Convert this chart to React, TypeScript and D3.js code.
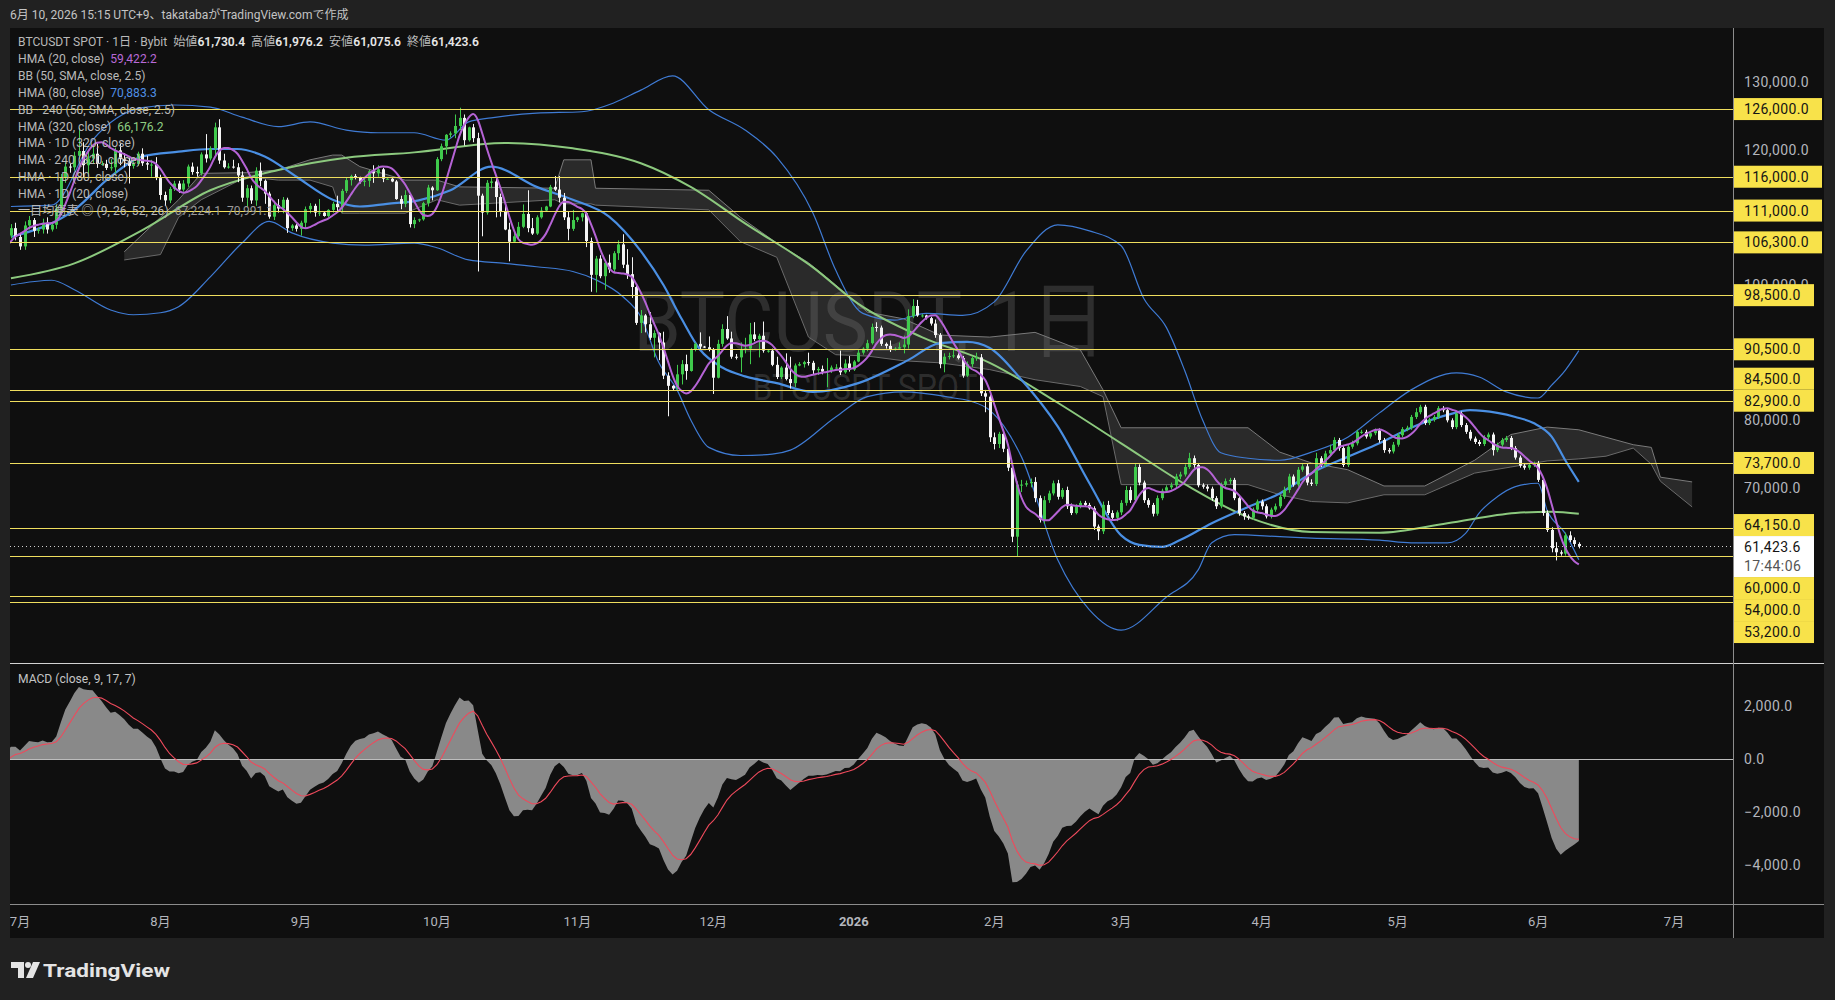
import React from 'react';
import * as d3 from 'd3';

// prices in thousands USDT
// warm-up closes before the visible window (2025-05-10 .. 2025-06-28), only used to seed HMA / MACD
const warmupCloses = [
  104.6, 104.1, 102.8, 104.2, 103.5, 103.8, 103.5, 103.1, 106.5, 105.6, 106.8, 109.7, 111.7, 107.3, 107.8, 109.0, 109.4, 108.9, 107.8, 105.6, 103.9, 104.6,
  105.7, 105.9, 105.4, 104.7, 101.6, 104.4, 105.6, 105.8, 110.3, 110.3, 108.7, 105.9, 106.1, 105.5, 105.6, 107.0, 104.6, 104.9, 104.7, 103.3, 102.1, 100.9, 105.6, 106.0, 107.3, 106.9, 107.1, 107.3,
];

// daily closes from 2025-06-29 to 2026-06-10
const closes = [
  108.4, 107.1,
  // Jul
  105.7, 108.8, 109.6, 108.0, 108.2, 109.2, 108.2, 108.9, 111.3, 115.9, 117.5, 117.4, 119.1, 119.8, 117.7, 118.7, 119.4, 117.9, 117.9, 117.3, 117.4, 119.9, 118.6, 118.3, 117.6, 117.9, 119.4, 118.0, 117.8, 117.8, 115.8,
  // Aug
  113.3, 112.5, 114.2, 115.0, 114.1, 115.0, 117.5, 116.7, 116.5, 119.3, 118.7, 120.2, 123.3, 118.4, 117.4, 117.5, 117.4, 116.2, 112.9, 114.3, 112.5, 116.9, 115.4, 113.5, 110.1, 111.8, 111.3, 112.6, 108.4, 108.8, 108.3,
  // Sep
  109.2, 111.2, 111.7, 110.7, 110.7, 110.2, 111.1, 112.0, 111.5, 113.9, 115.5, 116.1, 115.9, 115.3, 115.4, 116.8, 116.5, 117.1, 115.7, 115.7, 115.3, 112.7, 112.0, 113.3, 109.0, 109.6, 109.7, 112.1, 114.4, 114.0,
  // Oct
  118.6, 120.5, 122.2, 122.4, 123.5, 124.7, 121.4, 123.3, 121.7, 113.2, 110.7, 115.1, 115.3, 113.0, 110.8, 108.2, 106.4, 107.2, 108.6, 110.5, 108.4, 107.6, 110.0, 111.0, 111.6, 114.5, 114.1, 112.9, 110.0, 108.3, 109.6,
  // Nov
  110.0, 110.6, 106.5, 101.5, 103.9, 101.3, 103.3, 102.3, 104.7, 106.0, 103.0, 101.6, 99.7, 94.4, 95.5, 94.2, 92.2, 92.9, 91.5, 86.6, 85.1, 84.7, 86.8, 88.3, 87.3, 90.5, 91.3, 90.9, 90.8, 90.4,
  // Dec
  86.3, 91.3, 93.5, 92.1, 89.4, 89.3, 90.4, 90.6, 92.7, 92.0, 92.5, 90.3, 90.3, 88.2, 86.4, 87.8, 86.1, 85.5, 88.1, 88.3, 88.6, 88.5, 87.4, 87.6, 87.2, 87.3, 87.8, 87.8, 87.1, 88.4, 87.5,
  // Jan
  88.7, 90.0, 90.6, 91.4, 93.8, 93.7, 91.3, 91.0, 90.5, 90.6, 90.8, 91.2, 95.4, 96.9, 95.5, 95.5, 95.1, 94.3, 92.6, 88.3, 89.4, 89.5, 89.6, 89.2, 86.6, 88.3, 89.2, 89.3, 84.0, 83.5, 77.5,
  // Feb
  76.5, 78.0, 75.8, 73.0, 62.8, 70.5, 70.5, 70.7, 70.9, 68.5, 65.3, 68.2, 69.2, 70.7, 68.7, 69.7, 67.3, 66.3, 67.3, 67.8, 67.5, 67.0, 64.3, 63.6, 67.5, 66.3, 65.6, 66.4,
  // Mar
  67.8, 69.7, 68.2, 73.1, 70.8, 68.2, 67.5, 66.2, 68.5, 69.6, 70.1, 70.4, 71.7, 72.0, 73.1, 74.4, 73.4, 70.4, 70.2, 69.9, 68.5, 67.3, 70.5, 71.0, 71.2, 68.5, 66.3, 65.8, 65.6, 66.8, 68.0,
  // Apr
  67.3, 65.8, 66.8, 67.3, 68.7, 69.7, 71.7, 70.5, 72.7, 73.2, 70.8, 70.6, 74.4, 73.4, 75.1, 75.6, 77.1, 75.9, 73.4, 76.1, 76.6, 78.3, 78.3, 77.6, 78.1, 78.5, 77.1, 75.6, 75.4, 76.4,
  // May
  77.8, 78.7, 78.9, 80.5, 81.2, 82.0, 79.6, 80.1, 80.5, 81.8, 81.5, 80.0, 79.0, 81.0, 79.3, 78.3, 77.3, 76.8, 76.5, 77.5, 77.9, 75.6, 76.4, 77.1, 77.4, 75.9, 74.5, 73.3, 73.0, 73.4, 73.6,
  // Jun
  71.2, 66.3, 63.8, 61.1, 60.5, 60.3, 63.0, 62.3, 61.7304, 61.4236,
];

// upper / lower wick length of each candle (same days as closes)
const wickUp = [
  0.6, 0.8,
  0.6, 0.6, 0.6, 0.3, 0.3, 0.6, 0.8, 0.4, 0.6, 0.5, 0.6, 0.4, 0.6, 3.4, 1.3, 1.3, 1.2, 1.5, 0.4, 0.6, 1.2, 0.4, 1.0, 0.9, 0.5, 0.4, 0.3, 0.8, 1.1, 0.7, 1.1,
  0.5, 0.5, 0.3, 0.4, 0.4, 0.5, 0.3, 0.6, 0.8, 0.3, 3.0, 0.3, 0.7, 1.2, 1.0, 0.5, 1.0, 0.6, 0.6, 0.5, 0.4, 0.5, 1.2, 0.2, 0.3, 0.4, 0.9, 0.4, 0.3, 0.2, 0.2,
  0.3, 0.4, 0.4, 0.3, 2.0, 0.1, 0.1, 0.3, 1.2, 0.3, 0.4, 0.2, 0.3, 0.1, 0.3, 0.2, 0.9, 0.6, 0.2, 0.1, 0.1, 0.2, 0.5, 0.7, 0.3, 0.4, 0.1, 0.2, 0.4, 0.2,
  0.3, 0.4, 0.1, 0.3, 1.7, 1.5, 0.5, 0.1, 0.5, 0.8, 0.3, 0.4, 0.6, 0.6, 0.5, 1.0, 1.0, 0.5, 0.7, 1.4, 3.5, 1.5, 0.3, 0.5, 0.1, 0.3, 1.6, 2.0, 0.7, 0.8, 1.5,
  0.1, 0.1, 0.2, 0.5, 0.4, 0.5, 0.1, 1.2, 0.3, 0.6, 1.5, 2.3, 2.5, 0.2, 0.8, 0.2, 1.8, 0.4, 0.1, 1.6, 0.5, 0.1, 1.4, 0.6, 1.4, 0.2, 0.2, 1.7, 0.1, 1.6,
  0.3, 0.6, 0.7, 1.9, 1.0, 0.4, 1.1, 1.6, 1.7, 1.8, 0.3, 2.1, 0.1, 0.3, 1.2, 0.2, 2.1, 3.3, 0.3, 0.3, 0.2, 1.4, 0.3, 0.3, 0.5, 1.9, 0.3, 0.5, 2.5, 0.6, 1.1,
  0.2, 0.5, 0.2, 0.5, 0.5, 0.7, 0.3, 0.2, 0.8, 0.2, 0.7, 1.3, 1.0, 1.0, 0.9, 0.2, 0.1, 0.2, 0.6, 0.3, 0.5, 0.5, 1.0, 0.3, 0.3, 0.4, 0.3, 0.7, 0.5, 0.5, 0.3,
  0.7, 0.3, 0.5, 0.6, 0.4, 0.5, 0.7, 0.4, 0.5, 0.7, 0.4, 0.6, 0.4, 0.4, 0.5, 0.3, 0.5, 0.4, 0.3, 0.3, 0.3, 0.3, 0.3, 0.3, 0.5, 0.6, 0.4, 0.3,
  0.4, 0.6, 0.5, 0.6, 0.4, 0.3, 0.3, 0.3, 0.4, 0.3, 0.3, 0.4, 0.4, 0.4, 0.4, 0.8, 0.4, 0.3, 0.3, 0.3, 0.3, 0.3, 0.3, 0.4, 0.3, 0.3, 0.3, 0.3, 0.3, 0.3, 0.3,
  0.3, 0.3, 0.3, 0.4, 0.3, 0.5, 0.4, 0.3, 0.4, 0.4, 0.4, 0.5, 0.8, 0.3, 0.4, 0.8, 0.4, 0.3, 0.3, 0.3, 0.4, 0.3, 0.3, 0.3, 0.3, 0.3, 0.3, 0.3, 0.3, 0.4,
  0.3, 0.3, 0.3, 0.3, 0.6, 0.3, 0.3, 0.3, 0.3, 0.3, 0.3, 0.3, 0.3, 0.3, 0.3, 0.3, 0.3, 0.3, 0.3, 0.3, 0.3, 0.3, 0.3, 0.3, 0.3, 0.3, 0.3, 0.3, 0.4, 0.3, 0.3,
  0.4, 0.3, 0.4, 0.4, 0.9, 0.3, 0.4, 0.6, 0.4, 0.2458,
];
const wickDn = [
  0.4, 0.5,
  0.5, 0.5, 0.6, 0.9, 0.4, 0.6, 0.6, 0.3, 0.6, 0.8, 0.8, 0.8, 0.5, 0.5, 1.8, 1.6, 0.8, 0.6, 0.2, 0.3, 0.4, 0.9, 0.9, 0.9, 2.6, 0.4, 0.3, 0.4, 0.8, 1.8, 0.3,
  0.7, 0.8, 0.4, 0.3, 0.5, 0.3, 0.5, 0.4, 0.5, 0.3, 0.6, 0.3, 1.3, 0.5, 0.2, 0.2, 0.2, 1.0, 0.6, 1.3, 0.5, 0.8, 0.8, 1.5, 0.3, 0.5, 0.6, 0.7, 0.7, 0.4, 0.4,
  1.0, 0.8, 0.6, 0.6, 0.5, 0.1, 0.2, 0.4, 0.7, 0.8, 0.3, 0.8, 0.3, 0.3, 0.7, 0.9, 1.4, 0.5, 0.5, 0.1, 0.1, 0.1, 0.8, 0.5, 0.5, 0.6, 0.3, 0.2, 0.5, 1.5,
  0.1, 0.3, 1.2, 0.4, 0.7, 0.6, 0.8, 0.2, 0.6, 11.2, 3.5, 0.3, 0.8, 3.0, 0.7, 0.1, 2.9, 0.1, 0.5, 0.2, 0.6, 0.2, 0.2, 0.2, 0.1, 0.1, 0.2, 0.7, 0.4, 1.7, 0.3,
  0.3, 0.6, 0.9, 2.5, 2.6, 0.3, 2.0, 0.5, 0.5, 1.0, 0.5, 0.7, 1.6, 0.3, 1.5, 1.2, 0.3, 2.9, 2.6, 0.5, 4.5, 0.3, 0.2, 1.5, 1.3, 0.1, 0.3, 0.5, 0.1, 0.2,
  2.4, 0.1, 0.4, 0.2, 0.3, 0.3, 2.2, 0.5, 2.3, 0.3, 2.7, 0.3, 0.3, 0.2, 0.3, 0.3, 0.2, 0.8, 0.6, 0.1, 0.5, 0.4, 0.6, 0.7, 0.4, 2.3, 0.3, 0.2, 0.4, 0.2, 0.3,
  0.2, 0.1, 0.3, 0.4, 0.2, 0.6, 0.3, 0.4, 0.4, 0.2, 0.2, 0.9, 0.6, 0.3, 0.2, 0.3, 0.2, 0.3, 0.4, 0.6, 1.2, 0.4, 0.3, 0.2, 0.3, 0.2, 0.4, 0.4, 0.4, 2.3, 0.7,
  0.8, 0.6, 0.5, 0.5, 0.8, 2.9, 1.1, 0.3, 0.6, 0.6, 0.4, 0.6, 0.4, 0.3, 0.4, 0.3, 0.4, 0.3, 0.2, 0.3, 0.2, 0.2, 0.5, 1.3, 0.4, 0.3, 0.3, 0.5,
  0.4, 0.4, 0.4, 0.4, 0.4, 0.4, 0.4, 0.4, 0.3, 0.3, 0.3, 0.3, 0.4, 0.4, 0.3, 0.3, 0.4, 0.3, 0.3, 0.4, 0.4, 0.4, 0.3, 0.3, 0.4, 0.3, 0.4, 0.5, 0.3, 0.3, 0.4,
  0.5, 0.3, 0.3, 0.3, 0.3, 0.3, 0.4, 0.3, 0.3, 0.3, 0.4, 0.3, 0.3, 0.3, 0.3, 0.3, 0.3, 0.4, 0.3, 0.3, 0.3, 0.3, 0.3, 0.3, 0.3, 0.3, 0.4, 0.4, 0.3, 0.3,
  0.3, 0.3, 0.3, 0.3, 0.3, 0.3, 0.3, 0.3, 0.3, 0.3, 0.3, 0.3, 0.3, 0.3, 0.3, 0.3, 0.3, 0.3, 0.3, 0.3, 0.3, 0.8, 0.3, 0.3, 0.3, 0.3, 0.3, 0.3, 0.3, 0.3, 0.3,
  0.3, 0.4, 0.3, 0.6, 1.2, 0.3, 0.3, 0.3, 0.4, 0.348,
];

// indicator lines [date, value]
const hma80: [string, number][] = [
  ['2025-06-29', 107.1], ['2025-07-13', 111.1], ['2025-07-21', 116.0], ['2025-07-28', 119.0], ['2025-08-05', 119.7], ['2025-08-12', 120.1],
  ['2025-08-18', 120.1], ['2025-08-24', 119.0], ['2025-08-31', 116.0], ['2025-09-08', 112.6], ['2025-09-14', 111.6], ['2025-09-20', 112.0],
  ['2025-09-27', 112.5], ['2025-10-04', 114.0], ['2025-10-13', 117.5], ['2025-10-23', 114.5], ['2025-10-31', 112.6], ['2025-11-08', 110.1],
  ['2025-11-15', 105.0], ['2025-11-20', 100.0], ['2025-11-24', 95.0], ['2025-11-28', 90.5], ['2025-12-03', 87.8], ['2025-12-08', 86.5],
  ['2025-12-15', 85.5], ['2025-12-23', 84.2], ['2026-01-02', 85.5], ['2026-01-13', 88.9], ['2026-01-20', 91.4], ['2026-01-26', 91.6],
  ['2026-01-31', 90.7], ['2026-02-07', 86.0], ['2026-02-15', 79.1], ['2026-02-22', 70.7], ['2026-03-01', 63.0], ['2026-03-05', 61.6],
  ['2026-03-10', 61.3], ['2026-03-14', 62.3], ['2026-03-21', 64.8], ['2026-03-29', 67.2], ['2026-04-05', 69.2], ['2026-04-12', 72.2],
  ['2026-04-20', 74.6], ['2026-04-27', 76.6], ['2026-05-04', 78.9], ['2026-05-12', 80.8], ['2026-05-17', 81.5], ['2026-05-23', 81.1],
  ['2026-05-27', 80.5], ['2026-05-31', 79.6], ['2026-06-04', 77.6], ['2026-06-07', 74.1], ['2026-06-10', 70.9],
];
const hma320: [string, number][] = [
  ['2025-06-29', 101.0], ['2025-07-13', 103.2], ['2025-07-28', 108.1], ['2025-08-12', 114.0], ['2025-08-27', 117.0], ['2025-09-11', 118.8],
  ['2025-09-26', 119.6], ['2025-10-16', 121.0], ['2025-10-31', 120.2], ['2025-11-15', 118.0], ['2025-11-26', 114.5], ['2025-12-08', 109.1],
  ['2025-12-23', 102.6], ['2026-01-02', 97.2], ['2026-01-16', 92.3], ['2026-01-31', 88.5], ['2026-02-15', 82.6], ['2026-03-01', 76.6],
  ['2026-03-16', 70.2], ['2026-03-29', 65.7], ['2026-04-12', 63.5], ['2026-04-27', 63.4], ['2026-05-12', 64.8], ['2026-05-27', 66.3],
  ['2026-06-04', 66.5], ['2026-06-10', 66.2],
];
const bbUpper: [string, number][] = [
  ['2025-06-29', 111.6], ['2025-07-08', 111.8], ['2025-07-17', 121.4], ['2025-07-28', 126.2], ['2025-08-04', 126.6], ['2025-08-12', 126.3],
  ['2025-08-19', 124.8], ['2025-08-27', 123.4], ['2025-09-03', 124.1], ['2025-09-11', 122.9], ['2025-09-18', 122.5], ['2025-09-26', 122.5],
  ['2025-10-03', 121.4], ['2025-10-08', 124.1], ['2025-10-13', 124.7], ['2025-10-23', 125.4], ['2025-11-02', 125.6], ['2025-11-09', 126.9],
  ['2025-11-15', 128.8], ['2025-11-22', 130.9], ['2025-11-30', 125.9], ['2025-12-08', 122.9], ['2025-12-15', 118.9], ['2025-12-23', 110.6],
  ['2025-12-28', 102.2], ['2026-01-03', 95.8], ['2026-01-10', 94.8], ['2026-01-17', 95.8], ['2026-01-25', 95.5], ['2026-02-01', 97.5],
  ['2026-02-08', 105.0], ['2026-02-15', 108.9], ['2026-02-22', 108.0], ['2026-03-01', 105.8], ['2026-03-06', 98.0], ['2026-03-11', 93.7],
  ['2026-03-15', 87.4], ['2026-03-19', 80.0], ['2026-03-23', 75.2], ['2026-03-29', 74.4], ['2026-04-05', 74.1], ['2026-04-12', 75.3],
  ['2026-04-20', 77.5], ['2026-04-27', 81.1], ['2026-05-04', 84.5], ['2026-05-14', 87.0], ['2026-05-19', 86.4], ['2026-05-25', 84.2],
  ['2026-06-01', 83.3], ['2026-06-04', 85.2], ['2026-06-07', 87.4], ['2026-06-10', 90.3],
];
const bbLower: [string, number][] = [
  ['2025-06-29', 100.0], ['2025-07-08', 100.7], ['2025-07-13', 99.3], ['2025-07-21', 96.3], ['2025-07-26', 95.6], ['2025-08-01', 95.9],
  ['2025-08-05', 96.8], ['2025-08-12', 101.2], ['2025-08-19', 106.2], ['2025-08-25', 109.4], ['2025-08-30', 107.7], ['2025-09-08', 106.2],
  ['2025-09-15', 105.9], ['2025-09-26', 106.2], ['2025-10-01', 105.5], ['2025-10-08', 103.7], ['2025-10-16', 103.2], ['2025-10-23', 102.7],
  ['2025-10-31', 102.0], ['2025-11-05', 100.8], ['2025-11-11', 98.3], ['2025-11-15', 95.3], ['2025-11-19', 88.5], ['2025-11-23', 84.5],
  ['2025-11-26', 80.1], ['2025-11-30', 76.0], ['2025-12-07', 74.8], ['2025-12-14', 75.0], ['2025-12-18', 75.6], ['2025-12-28', 80.5],
  ['2026-01-04', 83.5], ['2026-01-12', 84.2], ['2026-01-23', 83.3], ['2026-01-27', 82.8], ['2026-01-31', 81.5], ['2026-02-07', 74.6],
  ['2026-02-15', 59.4], ['2026-02-22', 52.0], ['2026-03-01', 49.0], ['2026-03-11', 53.9], ['2026-03-18', 57.9], ['2026-03-21', 61.9],
  ['2026-03-26', 63.1], ['2026-04-05', 62.8], ['2026-04-12', 62.6], ['2026-04-27', 62.3], ['2026-05-04', 61.9], ['2026-05-12', 61.9],
  ['2026-05-16', 63.3], ['2026-05-19', 66.3], ['2026-05-23', 68.7], ['2026-05-27', 70.2], ['2026-06-01', 70.7], ['2026-06-03', 66.7],
  ['2026-06-07', 63.3], ['2026-06-10', 59.4],
];
// ichimoku cloud [date, span A, span B]
const cloud: [string, number, number][] = [
  ['2025-07-24', 104.9, 103.7], ['2025-08-01', 110.0, 104.5], ['2025-08-05', 112.6, 110.0], ['2025-08-10', 116.5, 112.6], ['2025-08-20', 116.6, 116.0],
  ['2025-08-27', 117.0, 115.5], ['2025-09-03', 118.5, 115.5], ['2025-09-08', 119.2, 114.5], ['2025-09-10', 119.2, 110.6], ['2025-09-14', 117.5, 110.6],
  ['2025-09-24', 115.5, 110.6], ['2025-10-01', 115.5, 112.6], ['2025-10-06', 114.5, 111.8], ['2025-10-27', 114.3, 112.6], ['2025-10-29', 118.5, 112.0],
  ['2025-11-04', 118.5, 112.0], ['2025-11-05', 114.3, 111.8], ['2025-11-30', 114.0, 111.1], ['2025-12-07', 110.0, 106.4], ['2025-12-15', 106.2, 104.1],
  ['2025-12-22', 103.3, 92.3], ['2025-12-28', 100.0, 89.7], ['2026-01-04', 96.0, 89.5], ['2026-01-12', 95.0, 88.8], ['2026-01-20', 92.6, 88.5],
  ['2026-01-31', 92.3, 87.5], ['2026-02-10', 93.0, 86.0], ['2026-02-20', 90.4, 85.0], ['2026-02-25', 84.5, 83.5], ['2026-03-01', 78.9, 70.5],
  ['2026-03-29', 78.9, 70.5], ['2026-04-05', 75.3, 69.0], ['2026-04-12', 73.7, 68.0], ['2026-04-20', 72.7, 67.8], ['2026-04-28', 70.3, 69.0],
  ['2026-05-07', 70.3, 69.0], ['2026-05-18', 74.1, 72.2], ['2026-05-26', 77.9, 73.1], ['2026-06-03', 79.0, 74.0], ['2026-06-10', 78.6, 74.3],
  ['2026-06-16', 77.5, 74.7], ['2026-06-22', 76.4, 75.9], ['2026-06-26', 76.0, 73.5], ['2026-06-28', 71.6, 71.0], ['2026-07-05', 70.9, 67.2],
];

// horizontal levels drawn by the author
const levels = [126000, 116000, 111000, 106300, 98500, 90500, 84500, 82900, 73700, 64150, 60000, 54000, 53200];
const priceTicks = [130000, 120000, 100000, 80000, 70000];
const macdTicks = [2000, 0, -2000, -4000];
const countdown = '17:44:06';

const legendRows: { t: string; c?: string; b?: boolean }[][] = [
  [{ t: 'BTCUSDT SPOT · 1日 · Bybit  始値' }, { t: '61,730.4', c: '#e6e6e6', b: true }, { t: '  高値' }, { t: '61,976.2', c: '#e6e6e6', b: true },
   { t: '  安値' }, { t: '61,075.6', c: '#e6e6e6', b: true }, { t: '  終値' }, { t: '61,423.6', c: '#e6e6e6', b: true }],
  [{ t: 'HMA (20, close)  ' }, { t: '59,422.2', c: '#b96ad8' }],
  [{ t: 'BB (50, SMA, close, 2.5)' }],
  [{ t: 'HMA (80, close)  ' }, { t: '70,883.3', c: '#4f8fe6' }],
  [{ t: 'BB · 240 (50, SMA, close, 2.5)' }],
  [{ t: 'HMA (320, close)  ' }, { t: '66,176.2', c: '#8fcf83' }],
  [{ t: 'HMA · 1D (320, close)' }],
  [{ t: 'HMA · 240 (320, close)' }],
  [{ t: 'HMA · 1D (80, close)' }],
  [{ t: 'HMA · 1D (20, close)' }],
  [{ t: '一目均衡表 ◎ (9, 26, 52, 26)  ' }, { t: '67,224.1  70,991.1', c: '#9a9a9a' }],
];

const FONT = "Roboto, 'Noto Sans CJK JP', 'Noto Sans', sans-serif";
const day = d3.utcParse('%Y-%m-%d');

function wma(src: (number | null)[], n: number): (number | null)[] {
  return src.map((_, t) => {
    if (t < n - 1) return null;
    let s = 0, w = 0;
    for (let i = 0; i < n; i++) {
      const v = src[t - i];
      if (v == null) return null;
      s += (n - i) * v;
      w += n - i;
    }
    return s / w;
  });
}
function hma(src: number[], n: number) {
  const half = wma(src, Math.floor(n / 2));
  const full = wma(src, n);
  const diff = src.map((_, t) => (half[t] == null || full[t] == null ? null : 2 * (half[t] as number) - (full[t] as number)));
  return wma(diff, Math.floor(Math.sqrt(n)));
}
function ema(src: number[], n: number) {
  const a = 2 / (n + 1);
  const out: number[] = [];
  src.forEach((v, i) => out.push(i === 0 ? v : a * v + (1 - a) * out[i - 1]));
  return out;
}

export default function App() {
  const W = 1835, H = 1000;
  const L = 10, R = 1733, T = 28, MB = 663, PB = 904, AB = 938, AR = 1824;
  const BG = '#212121', PANEL = '#0f0f0f', AXIS_TXT = '#b4b6bd', LEG = '#b9b9b9';

  const x = d3.scaleUtc().domain([day('2025-07-01')!, day('2026-07-01')!]).range([20, 1674]);
  const y = d3.scaleLinear().domain([70000, 130000]).range([488, 82]);
  const ym = d3.scaleLinear().domain([-4000, 2000]).range([865, 706]);

  const all = [...warmupCloses, ...closes].map((v) => v * 1000);
  const nWarm = warmupCloses.length;
  const start = day('2025-05-10')!;
  const dates = all.map((_, i) => d3.utcDay.offset(start, i));

  const candles = closes.map((_, j) => {
    const i = nWarm + j;
    const o = all[i - 1], c = all[i];
    return {
      date: dates[i], o, c,
      h: Math.max(o, c) + (wickUp[j] ?? 0.3) * 1000,
      l: Math.min(o, c) - (wickDn[j] ?? 0.3) * 1000,
    };
  });

  const h20 = hma(all, 20);
  const h20pts = dates.map((d, i) => ({ d, v: h20[i] })).filter((p, i) => i >= nWarm - 2 && p.v != null) as { d: Date; v: number }[];

  const fast = ema(all, 9), slow = ema(all, 17);
  const macd = all.map((_, i) => fast[i] - slow[i]);
  const sig = ema(macd, 7);
  const macdPts = dates.map((d, i) => ({ d, m: macd[i], s: sig[i] })).filter((_, i) => i >= nWarm - 1);

  const toPts = (arr: [string, number][]) => arr.map(([d, v]) => ({ d: day(d)!, v: v * 1000 }));
  const line = d3.line<{ d: Date; v: number }>().x((p) => x(p.d)).y((p) => y(p.v)).curve(d3.curveMonotoneX);

  const cloudPts = cloud.map(([d, a, b]) => ({ d: day(d)!, a: a * 1000, b: b * 1000 }));
  const cloudArea = d3.area<{ d: Date; a: number; b: number }>().x((p) => x(p.d)).y0((p) => y(p.a)).y1((p) => y(p.b));
  const spanA = d3.line<{ d: Date; a: number; b: number }>().x((p) => x(p.d)).y((p) => y(p.a));
  const spanB = d3.line<{ d: Date; a: number; b: number }>().x((p) => x(p.d)).y((p) => y(p.b));

  const macdArea = d3.area<{ d: Date; m: number; s: number }>().x((p) => x(p.d)).y0(ym(0)).y1((p) => ym(p.m));
  const sigLine = d3.line<{ d: Date; m: number; s: number }>().x((p) => x(p.d)).y((p) => ym(p.s));

  // price axis labels with TradingView-like collision handling
  const fmt = d3.format(',.1f');
  const last = all[all.length - 1];
  const py = y(last);
  const boxTop = py - 10, boxBot = py + 31;
  const lab = levels.map((v) => ({ v, y: y(v), ly: y(v) }));
  const above = lab.filter((d) => d.y <= py).sort((a, b) => b.y - a.y);
  let lim = boxTop;
  above.forEach((d) => { d.ly = Math.min(d.y, lim - 11); lim = d.ly - 11; });
  const below = lab.filter((d) => d.y > py).sort((a, b) => a.y - b.y);
  lim = boxBot;
  below.forEach((d) => { d.ly = Math.max(d.y, lim + 11); lim = d.ly + 11; });

  const months = d3.utcMonth.range(day('2025-07-01')!, day('2026-07-02')!);

  const minus = (s: string) => s.replace('-', '−');

  return (
    <svg width={W} height={H} style={{ position: 'absolute', left: 0, top: 0, display: 'block', background: BG }} fontFamily={FONT}>
      <defs>
        <clipPath id="mainClip"><rect x={L} y={T} width={R - L} height={MB - T} /></clipPath>
        <clipPath id="macdClip"><rect x={L} y={MB + 1} width={R - L} height={PB - MB - 1} /></clipPath>
        <clipPath id="axisClip"><rect x={L} y={PB} width={R - L} height={AB - PB} /></clipPath>
      </defs>
      <rect x={0} y={0} width={W} height={H} fill={BG} />
      <text x={10} y={19} fontSize={12} fill="#c4c4c4">6月 10, 2026 15:15 UTC+9、takatabaがTradingView.comで作成</text>
      <rect x={L} y={T} width={AR - L} height={AB - T} fill={PANEL} />

      {/* watermark */}
      <g fill="rgba(255,255,255,0.13)" textAnchor="middle">
        <text x={870} y={351} fontSize={84} textLength={473} lengthAdjust="spacingAndGlyphs">BTCUSDT, 1日</text>
        <text x={865} y={400} fontSize={36} textLength={225} lengthAdjust="spacingAndGlyphs">BTCUSDT SPOT</text>
      </g>

      <g clipPath="url(#mainClip)">
        {/* ichimoku cloud */}
        <path d={cloudArea(cloudPts) ?? ''} fill="rgba(150,150,150,0.2)" />
        <path d={spanA(cloudPts) ?? ''} fill="none" stroke="#7a7a7a" strokeWidth={1} />
        <path d={spanB(cloudPts) ?? ''} fill="none" stroke="#6a6a6a" strokeWidth={1} />
        {/* bollinger bands */}
        <path d={line(toPts(bbUpper)) ?? ''} fill="none" stroke="#3f7bd4" strokeWidth={1.2} />
        <path d={line(toPts(bbLower)) ?? ''} fill="none" stroke="#3f7bd4" strokeWidth={1.2} />
        {/* HMA 320 / 80 */}
        <path d={line(toPts(hma320)) ?? ''} fill="none" stroke="#8cc97e" strokeWidth={2} />
        <path d={line(toPts(hma80)) ?? ''} fill="none" stroke="#4a8fe3" strokeWidth={2.2} />
        {/* candles */}
        {candles.map((k, i) => {
          const cx = Math.round(x(k.date));
          const col = k.c >= k.o ? '#3fca4c' : '#f4f4f4';
          const top = y(Math.max(k.o, k.c)), bot = y(Math.min(k.o, k.c));
          return (
            <g key={i} fill={col}>
              <rect x={cx} y={y(k.h)} width={1} height={Math.max(1, y(k.l) - y(k.h))} />
              <rect x={cx - 1} y={top} width={3} height={Math.max(1, bot - top)} />
            </g>
          );
        })}
        {/* HMA 20 */}
        <path d={line(h20pts) ?? ''} fill="none" stroke="#b563d5" strokeWidth={2} />
        {/* levels */}
        {levels.map((v) => (
          <line key={v} x1={L} x2={R} y1={Math.round(y(v)) + 0.5} y2={Math.round(y(v)) + 0.5} stroke="#efde5e" strokeWidth={1} />
        ))}
        <line x1={L} x2={R} y1={Math.round(py) + 0.5} y2={Math.round(py) + 0.5} stroke="#cfcfcf" strokeWidth={1} strokeDasharray="1 3" />
      </g>

      {/* legend */}
      {legendRows.map((row, r) => (
        <text key={r} x={18} y={46 + r * 16.9} fontSize={12.1} fill={LEG} style={{ whiteSpace: 'pre' }}>
          {row.map((s, k) => (
            <tspan key={k} fill={s.c ?? LEG} fontWeight={s.b ? 600 : 400}>{s.t}</tspan>
          ))}
        </text>
      ))}

      {/* MACD pane */}
      <g clipPath="url(#macdClip)">
        <path d={macdArea(macdPts) ?? ''} fill="#898989" />
        <line x1={L} x2={R} y1={Math.round(ym(0)) + 0.5} y2={Math.round(ym(0)) + 0.5} stroke="#bdbdbd" strokeWidth={1} />
        <path d={sigLine(macdPts) ?? ''} fill="none" stroke="#ee4a5c" strokeWidth={1.1} />
      </g>
      <text x={18} y={683} fontSize={12.1} fill="#c4c4c4">MACD (close, 9, 17, 7)</text>

      {/* pane separators */}
      <line x1={L} x2={AR} y1={MB + 0.5} y2={MB + 0.5} stroke="#d2d2d2" strokeWidth={1} />
      <line x1={L} x2={AR} y1={PB + 0.5} y2={PB + 0.5} stroke="#8c8c8c" strokeWidth={1} />
      <line x1={R + 0.5} x2={R + 0.5} y1={T} y2={AB} stroke="#8c8c8c" strokeWidth={1} />

      {/* time axis */}
      <g clipPath="url(#axisClip)">
        {months.map((m) => {
          const jan = m.getUTCMonth() === 0;
          return (
            <text key={m.toISOString()} x={x(m)} y={926} fontSize={13} fill={AXIS_TXT} textAnchor="middle" fontWeight={jan ? 700 : 400}>
              {jan ? String(m.getUTCFullYear()) : `${m.getUTCMonth() + 1}月`}
            </text>
          );
        })}
      </g>

      {/* price axis */}
      <g fontSize={14} letterSpacing={0.4}>
        {priceTicks.map((v) => (
          <text key={v} x={1744} y={y(v) + 5} fill={AXIS_TXT}>{fmt(v)}</text>
        ))}
        {lab.map((d) => {
          const t = fmt(d.v);
          return (
            <g key={d.v}>
              <rect x={R + 1} y={d.ly - 11} width={t.length * 8 + 16} height={22} fill="#f8e24a" />
              <text x={1744} y={d.ly + 5} fill="#141414">{t}</text>
            </g>
          );
        })}
        <rect x={R + 1} y={boxTop} width={80} height={41} fill="#ffffff" />
        <text x={1744} y={py + 6} fill="#141414">{fmt(last)}</text>
        <text x={1744} y={py + 25} fill="#555555">{countdown}</text>
        {macdTicks.map((v) => (
          <text key={v} x={1744} y={ym(v) + 5} fill={AXIS_TXT}>{minus(fmt(v))}</text>
        ))}
      </g>

      {/* TradingView logo */}
      <g fill="#e4e4e4">
        <path d="M11 962 h13 v16 h-6 v-10 h-7 z" />
        <circle cx={28} cy={965} r={3} />
        <path d="M33 962 h7 l-7 16 h-7 z" />
        <text x={43} y={977} fontSize={19} fontWeight={700} textLength={127} lengthAdjust="spacingAndGlyphs">TradingView</text>
      </g>
    </svg>
  );
}
